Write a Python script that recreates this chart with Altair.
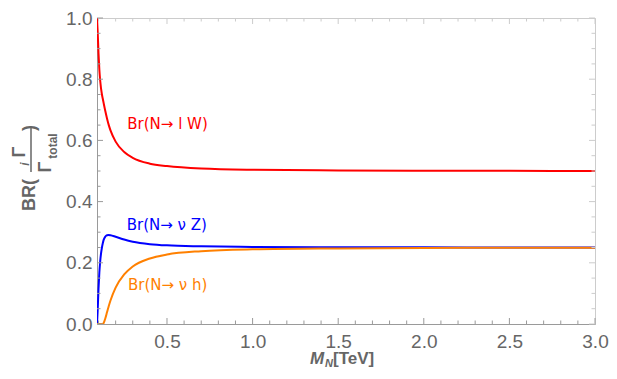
import altair as alt
import pandas as pd

# Values
mass = [0.0912, 0.095, 0.1, 0.105, 0.11, 0.12, 0.125, 0.13, 0.14, 0.15, 0.16, 0.17,
        0.2, 0.25, 0.3, 0.4, 0.5, 0.7, 1.0, 1.5, 2.0, 2.5, 3.0]
br_lW = [1.0, 0.957, 0.885, 0.831, 0.794, 0.75, 0.736, 0.722, 0.695, 0.671, 0.650, 0.633,
         0.596, 0.562, 0.543, 0.524, 0.516, 0.508, 0.504, 0.502, 0.501, 0.5005, 0.500]
br_nuZ = [0.0, 0.043, 0.115, 0.169, 0.206, 0.25, 0.264, 0.275, 0.286, 0.290, 0.291, 0.290,
          0.285, 0.276, 0.269, 0.261, 0.257, 0.254, 0.252, 0.251, 0.2505, 0.2503, 0.2502]
br_nuh = [0.0, 0.0, 0.0, 0.0, 0.0, 0.0, 0.0, 0.003, 0.019, 0.039, 0.059, 0.077,
          0.119, 0.162, 0.188, 0.214, 0.227, 0.238, 0.244, 0.247, 0.2485, 0.249, 0.2495]

series_names = ["lW", "nuZ", "nuh"]
series_colors = ["#ff0000", "#0000ff", "#ff8000"]

label_text = ["Br(N\u2192 l W)", "Br(N\u2192 \u03bd Z)", "Br(N\u2192 \u03bd h)"]
label_x = [0.268, 0.265, 0.272]
label_y = [0.652, 0.322, 0.126]

x_major = [0.5, 1.0, 1.5, 2.0, 2.5, 3.0]
x_minor = [0.1, 0.2, 0.3, 0.4, 0.6, 0.7, 0.8, 0.9, 1.1, 1.2, 1.3, 1.4, 1.6, 1.7, 1.8, 1.9,
           2.1, 2.2, 2.3, 2.4, 2.6, 2.7, 2.8, 2.9]
y_major = [0.0, 0.2, 0.4, 0.6, 0.8, 1.0]
y_minor = [0.05, 0.1, 0.15, 0.25, 0.3, 0.35, 0.45, 0.5, 0.55, 0.65, 0.7, 0.75, 0.85, 0.9, 0.95]

W, H = 498, 306
GRAY = "#666666"
FRAME = "#9a9a9a"
LIGHT = "#cccccc"

rows = []
for name, vals in zip(series_names, [br_lW, br_nuZ, br_nuh]):
    for m, v in zip(mass, vals):
        rows.append({"x": m, "br": v, "series": name})
df = pd.DataFrame(rows)

xscale = alt.Scale(domain=[0.0912, 3.0], nice=False, zero=False)
yscale = alt.Scale(domain=[0, 1], nice=False, zero=False)
xaxis = alt.Axis(values=x_major, format=".1f", ticks=False, grid=False,
                 labelFontSize=19, labelColor=GRAY, labelFont="Liberation Sans",
                 labelPadding=8, labelFlush=False, domainColor=FRAME, title=None)
yaxis = alt.Axis(values=y_major, format=".1f", ticks=False, grid=False,
                 labelFontSize=19, labelColor=GRAY, labelFont="Liberation Sans",
                 labelPadding=5, labelFlush=False, domainColor=FRAME, title=None)


def X(f="x:Q"):
    return alt.X(f, scale=xscale, axis=xaxis)


def Y(f="br:Q"):
    return alt.Y(f, scale=yscale, axis=yaxis)


color = alt.Color("series:N", scale=alt.Scale(domain=series_names, range=series_colors),
                  legend=None)

lines = alt.Chart(df).mark_line(strokeWidth=2, interpolate="monotone", clip=True).encode(
    x=X(), y=Y(), color=color)

labels_df = pd.DataFrame({"x": label_x, "br": label_y, "t": label_text, "series": series_names})
labels = alt.Chart(labels_df).mark_text(align="left", baseline="middle", fontSize=15,
                                        font="DejaVu Sans").encode(
    x=X(), y=Y(), text="t:N", color=color)

xt_major = pd.DataFrame({"x": x_major})
xt_minor = pd.DataFrame({"x": x_minor})
yt_major = pd.DataFrame({"br": y_major})
yt_minor = pd.DataFrame({"br": y_minor})

tick_layers = []
for d, ln in [(xt_major, 6), (xt_minor, 3.5)]:
    tick_layers.append(alt.Chart(d).mark_rule(color=FRAME, strokeWidth=1).encode(
        x=X(), y=alt.value(H), y2=alt.value(H - ln)))
    tick_layers.append(alt.Chart(d).mark_rule(color=LIGHT, strokeWidth=1).encode(
        x=X(), y=alt.value(0), y2=alt.value(ln)))
for d, ln in [(yt_major, 6), (yt_minor, 3.5)]:
    tick_layers.append(alt.Chart(d).mark_rule(color=FRAME, strokeWidth=1).encode(
        y=Y(), x=alt.value(0), x2=alt.value(ln)))
    tick_layers.append(alt.Chart(d).mark_rule(color=LIGHT, strokeWidth=1).encode(
        y=Y(), x=alt.value(W), x2=alt.value(W - ln)))

one = pd.DataFrame({"k": [0]})


def txt(s, x, y, size, weight="bold", style="normal", angle=0, align="center",
        baseline="middle"):
    kw = dict(text=s, fontSize=size, fontWeight=weight, fontStyle=style, color=GRAY,
              font="Liberation Sans", align=align, baseline=baseline)
    if angle:
        kw["angle"] = angle
    return alt.Chart(one).mark_text(**kw).encode(x=alt.value(x), y=alt.value(y))


titles = [
    # y title: BR( Γ_i / Γ_total )
    txt("BR(", -67, 177, 18, angle=270),
    txt("\u0393", -77, 134, 18, angle=270),
    txt("i", -72, 146, 12, style="italic", angle=270),
    txt("\u0393", -51, 149, 18, angle=270),
    txt("total", -44, 128, 12, angle=270),
    txt(")", -67, 110, 18, angle=270),
    alt.Chart(one).mark_rule(color=GRAY, strokeWidth=1.5).encode(
        x=alt.value(-66), y=alt.value(109), y2=alt.value(154)),
    # x title: M_N[TeV]
    txt("M", 220, 346, 17, style="italic", baseline="alphabetic"),
    txt("N", 232, 349, 11, style="italic", baseline="alphabetic"),
    txt("[TeV]", 236, 346, 17, align="left", baseline="alphabetic"),
]

chart = alt.layer(lines, *tick_layers, labels, *titles).properties(
    width=W, height=H,
    autosize=alt.AutoSizeParams(type="none"),
    padding={"left": 89, "top": 10, "right": 14, "bottom": 47},
).configure_view(stroke=LIGHT, strokeWidth=1)

chart.save("out.html", embed_options={"renderer": "svg", "actions": False})
